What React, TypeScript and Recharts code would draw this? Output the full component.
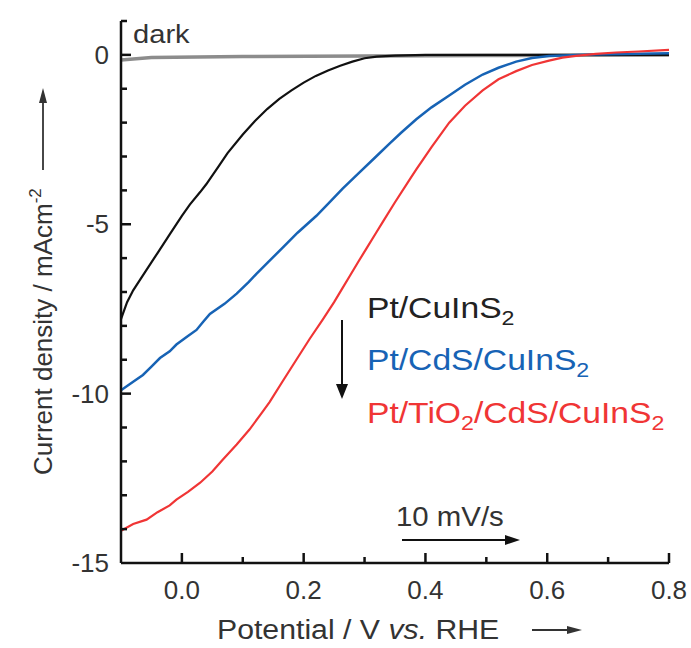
import React from 'react';
import { LineChart, Line, XAxis, YAxis } from 'recharts';

// potential (V vs. RHE) / current density (mA cm^-2)
const darkData = [
  { v: -0.1, j: -0.15 }, { v: -0.05, j: -0.08 }, { v: 0.1, j: -0.05 },
  { v: 0.3, j: -0.03 }, { v: 0.5, j: -0.02 }, { v: 0.8, j: 0.0 },
];

const ptCuInS2 = [
  { v: -0.1, j: -7.8 }, { v: -0.09, j: -7.3 }, { v: -0.08, j: -6.95 }, { v: -0.06, j: -6.4 },
  { v: -0.04, j: -5.85 }, { v: -0.02, j: -5.3 }, { v: 0.0, j: -4.75 }, { v: 0.013, j: -4.42 },
  { v: 0.03, j: -4.05 }, { v: 0.04, j: -3.82 }, { v: 0.06, j: -3.3 }, { v: 0.075, j: -2.9 },
  { v: 0.1, j: -2.35 }, { v: 0.12, j: -1.95 }, { v: 0.14, j: -1.6 }, { v: 0.16, j: -1.3 },
  { v: 0.18, j: -1.05 }, { v: 0.2, j: -0.82 }, { v: 0.22, j: -0.62 }, { v: 0.24, j: -0.46 },
  { v: 0.26, j: -0.32 }, { v: 0.28, j: -0.2 }, { v: 0.3, j: -0.1 }, { v: 0.32, j: -0.05 },
  { v: 0.35, j: -0.02 }, { v: 0.4, j: 0.0 }, { v: 0.5, j: 0.0 }, { v: 0.6, j: 0.0 },
  { v: 0.7, j: 0.0 }, { v: 0.8, j: 0.0 },
];

const ptCdSCuInS2 = [
  { v: -0.1, j: -9.9 }, { v: -0.08, j: -9.65 }, { v: -0.064, j: -9.45 }, { v: -0.05, j: -9.2 },
  { v: -0.036, j: -8.95 }, { v: -0.02, j: -8.75 }, { v: -0.009, j: -8.55 }, { v: 0.01, j: -8.3 },
  { v: 0.024, j: -8.12 }, { v: 0.035, j: -7.88 }, { v: 0.046, j: -7.65 }, { v: 0.07, j: -7.35 },
  { v: 0.09, j: -7.05 }, { v: 0.11, j: -6.7 }, { v: 0.122, j: -6.47 }, { v: 0.14, j: -6.15 },
  { v: 0.166, j: -5.68 }, { v: 0.19, j: -5.25 }, { v: 0.221, j: -4.75 }, { v: 0.24, j: -4.4 },
  { v: 0.264, j: -3.95 }, { v: 0.29, j: -3.5 }, { v: 0.319, j: -3.0 }, { v: 0.341, j: -2.62 },
  { v: 0.36, j: -2.3 }, { v: 0.385, j: -1.9 }, { v: 0.41, j: -1.55 }, { v: 0.439, j: -1.2 },
  { v: 0.465, j: -0.88 }, { v: 0.494, j: -0.58 }, { v: 0.52, j: -0.38 }, { v: 0.549, j: -0.2 },
  { v: 0.575, j: -0.09 }, { v: 0.603, j: -0.03 }, { v: 0.65, j: 0.0 }, { v: 0.7, j: 0.02 },
  { v: 0.8, j: 0.05 },
];

const ptTiO2CdSCuInS2 = [
  { v: -0.1, j: -14.05 }, { v: -0.08, j: -13.85 }, { v: -0.058, j: -13.72 }, { v: -0.04, j: -13.5 },
  { v: -0.02, j: -13.3 }, { v: -0.009, j: -13.13 }, { v: 0.01, j: -12.9 }, { v: 0.03, j: -12.63 },
  { v: 0.05, j: -12.3 }, { v: 0.067, j: -11.95 }, { v: 0.09, j: -11.5 }, { v: 0.111, j: -11.06 },
  { v: 0.13, j: -10.6 }, { v: 0.144, j: -10.25 }, { v: 0.165, j: -9.65 }, { v: 0.188, j: -9.0 },
  { v: 0.21, j: -8.38 }, { v: 0.231, j: -7.82 }, { v: 0.25, j: -7.3 }, { v: 0.264, j: -6.88 },
  { v: 0.275, j: -6.55 }, { v: 0.29, j: -6.1 }, { v: 0.303, j: -5.72 }, { v: 0.319, j: -5.25 },
  { v: 0.33, j: -4.93 }, { v: 0.35, j: -4.35 }, { v: 0.374, j: -3.68 }, { v: 0.385, j: -3.38 },
  { v: 0.41, j: -2.72 }, { v: 0.439, j: -2.0 }, { v: 0.465, j: -1.5 }, { v: 0.494, j: -1.05 },
  { v: 0.52, j: -0.72 }, { v: 0.549, j: -0.48 }, { v: 0.575, j: -0.3 }, { v: 0.603, j: -0.17 },
  { v: 0.625, j: -0.08 }, { v: 0.647, j: -0.03 }, { v: 0.68, j: 0.03 }, { v: 0.713, j: 0.07 },
  { v: 0.75, j: 0.1 }, { v: 0.8, j: 0.15 },
];

const xTicks = [0, 0.1, 0.2, 0.3, 0.4, 0.5, 0.6, 0.7, 0.8];
const xTickLabels = ['0.0', '', '0.2', '', '0.4', '', '0.6', '', '0.8'];
const yTicks = [1, 0, -1, -2, -3, -4, -5, -6, -7, -8, -9, -10, -11, -12, -13, -14, -15];
const yTickLabels = ['', '0', '', '', '', '', '-5', '', '', '', '', '-10', '', '', '', '', '-15'];

const FONT = '"Liberation Sans", Arial, Helvetica, sans-serif';
const TEXT = '#333';
const AXIS = '#111';

const XTick = (props: any) => {
  const { x, y, index } = props;
  const label = xTickLabels[index];
  const len = label ? 10 : 6;
  return (
    <g>
      <line x1={x} x2={x} y1={y} y2={y - len} stroke={AXIS} strokeWidth={2.5} />
      {label && (
        <text x={x} y={y + 36} textAnchor="middle" fontSize={26} fill={TEXT} fontFamily={FONT}>
          {label}
        </text>
      )}
    </g>
  );
};

const YTick = (props: any) => {
  const { x, y, index } = props;
  const label = yTickLabels[index];
  const len = label === '-15' ? 0 : label ? 10 : 6;
  return (
    <g>
      {len > 0 && <line x1={x} x2={x + len} y1={y} y2={y} stroke={AXIS} strokeWidth={2.5} />}
      {label && (
        <text x={x - 12} y={y + 9} textAnchor="end" fontSize={26} fill={TEXT} fontFamily={FONT}>
          {label}
        </text>
      )}
    </g>
  );
};

const SText = ({ x, y, sx = 1, children, ...rest }: any) => (
  <text transform={`translate(${x},${y}) scale(${sx},1)`} fontFamily={FONT} {...rest}>
    {children}
  </text>
);

export default function App() {
  return (
    <div style={{ position: 'absolute', left: 0, top: 0, width: 691, height: 648, background: '#fff' }}>
      <LineChart
        width={691}
        height={648}
        margin={{ top: 21, right: 22, bottom: 45, left: 61 }}
      >
        <XAxis
          type="number"
          dataKey="v"
          domain={[-0.1, 0.8]}
          ticks={xTicks}
          interval={0}
          allowDataOverflow
          height={40}
          tickSize={0}
          tickMargin={0}
          tickLine={false}
          axisLine={{ stroke: AXIS, strokeWidth: 2.5 }}
          tick={<XTick />}
        />
        <YAxis
          type="number"
          dataKey="j"
          domain={[-15, 1]}
          ticks={yTicks}
          interval={0}
          allowDataOverflow
          width={60}
          tickSize={0}
          tickMargin={0}
          tickLine={false}
          axisLine={{ stroke: AXIS, strokeWidth: 2.5 }}
          tick={<YTick />}
        />
        <Line data={darkData} dataKey="j" stroke="#8c8c8c" strokeWidth={3.5} dot={false} isAnimationActive={false} />
        <Line data={ptCuInS2} dataKey="j" stroke="#111" strokeWidth={2.2} dot={false} isAnimationActive={false} />
        <Line data={ptCdSCuInS2} dataKey="j" stroke="#1763b5" strokeWidth={2.5} dot={false} isAnimationActive={false} />
        <Line data={ptTiO2CdSCuInS2} dataKey="j" stroke="#f03535" strokeWidth={2.2} dot={false} isAnimationActive={false} />
      </LineChart>

      <svg width={691} height={648} style={{ position: 'absolute', left: 0, top: 0, pointerEvents: 'none' }}>
        <SText x={133} y={43} sx={1.12} fontSize={26} fill={TEXT}>dark</SText>

        <SText x={367} y={318} sx={1.16} fontSize={29} fill="#222">
          Pt/CuInS<tspan dy={7} fontSize={20}>2</tspan>
        </SText>
        <SText x={367} y={370} sx={1.16} fontSize={29} fill="#1763b5">
          Pt/CdS/CuInS<tspan dy={7} fontSize={20}>2</tspan>
        </SText>
        <SText x={367} y={423} sx={1.16} fontSize={29} fill="#f03535">
          Pt/TiO<tspan dy={7} fontSize={20}>2</tspan>
          <tspan dy={-7}>/CdS/CuInS</tspan>
          <tspan dy={7} fontSize={20}>2</tspan>
        </SText>
        <line x1={342} y1={320} x2={342} y2={388} stroke="#111" strokeWidth={2} />
        <polygon points="336,384 348,384 342,399" fill="#111" />

        <SText x={396} y={526} sx={1.05} fontSize={28} fill={TEXT}>10 mV/s</SText>
        <line x1={402} y1={540} x2={508} y2={540} stroke="#111" strokeWidth={2} />
        <polygon points="505,535 505,545 520,540" fill="#111" />

        <SText x={217} y={639} sx={1.12} fontSize={27} fill={TEXT}>
          Potential / V <tspan fontStyle="italic">vs.</tspan> RHE
        </SText>
        <line x1={532} y1={630} x2={570} y2={630} stroke="#333" strokeWidth={1.8} />
        <polygon points="567,626 567,634 582,630" fill="#333" />

        <text
          transform="translate(52,475) rotate(-90)"
          fontFamily={FONT}
          fontSize={26}
          fill={TEXT}
        >
          Current density / mAcm<tspan dy={-11} fontSize={17}>-2</tspan>
        </text>
        <line x1={43} y1={170} x2={43} y2={100} stroke="#333" strokeWidth={1.8} />
        <polygon points="39,103 47,103 43,88" fill="#333" />
      </svg>
    </div>
  );
}
